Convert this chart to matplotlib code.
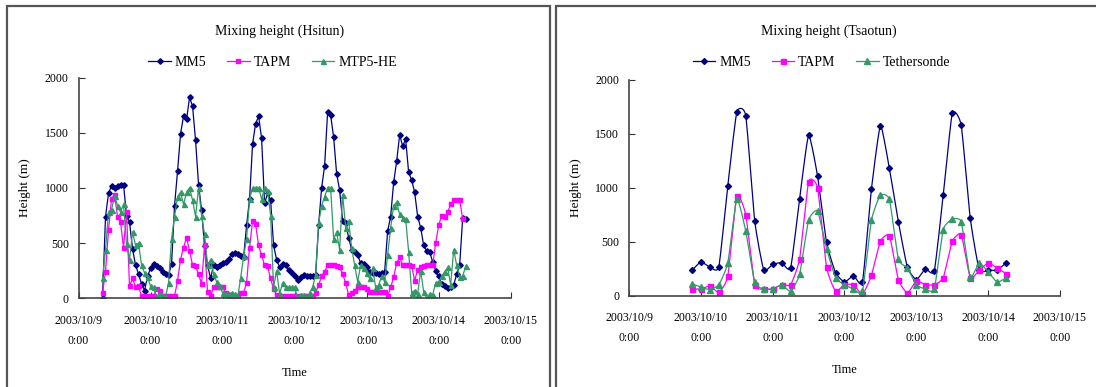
import numpy as np
import matplotlib.pyplot as plt
from matplotlib.patches import Rectangle

plt.rcParams['font.family'] = ['Liberation Serif', 'DejaVu Serif']

# ---- Hsitun: hourly values, first hour = 10/9 08:00 ----
hsitun_mm5_start = 8
hsitun_mm5 = [0, 740, 950, 1020, 1000, 1020, 1030, 1030, 750, 690, 450, 300, 220, 130, 70, 200,
              270, 310, 290, 270, 240, 220, 210, 310, 840, 1150, 1490, 1650, 1620, 1820, 1740, 1430,
              1030, 800, 470, 300, 180, 300, 280, 300, 320, 330, 360, 400, 410, 400, 380, 370,
              660, 900, 1400, 1580, 1650, 1450, 860, 950, 890, 480, 350, 280, 310, 300, 260, 230,
              200, 170, 190, 210, 200, 200, 200, 210, 660, 1000, 1200, 1690, 1660, 1460, 1130, 980,
              700, 680, 550, 440, 420, 390, 320, 310, 280, 240, 230, 230, 220, 230, 240, 610,
              740, 1050, 1240, 1480, 1380, 1440, 1140, 1070, 960, 740, 640, 480, 430, 420, 330, 250,
              200, 130, 110, 90, 100, 120, 220, 300, 730, 720]

hsitun_tapm_start = 8
hsitun_tapm = [50, 240, 620, 900, 940, 740, 690, 460, 780, 110, 180, 100, 110, 20, 20, 20,
               20, 20, 80, 70, 20, 20, 20, 20, 20, 160, 350, 460, 550, 430, 300, 290,
               220, 130, 480, 60, 20, 100, 100, 100, 100, 50, 20, 20, 20, 20, 50, 50,
               140, 460, 700, 670, 480, 390, 300, 290, 180, 80, 30, 20, 20, 20, 20, 20,
               20, 20, 20, 20, 20, 20, 20, 50, 120, 200, 240, 300, 300, 300, 290, 280,
               220, 140, 30, 50, 70, 100, 100, 100, 80, 60, 60, 60, 60, 60, 60, 20,
               100, 190, 320, 370, 300, 300, 300, 290, 160, 260, 280, 290, 300, 300, 300, 500,
               660, 750, 740, 780, 850, 890, 890, 890, 720]

hsitun_mtp5_start = 8
hsitun_mtp5 = [180, 440, 780, 800, 930, 840, 780, 850, 490, 350, 600, 480, 500, 300, 230, 190,
               110, 100, 10, 50, 10, 10, 140, 540, 740, 920, 960, 850, 960, 1000, 890, 740,
               1000, 750, 580, 300, 350, 220, 150, 110, 50, 40, 40, 50, 40, 0, 180, 380,
               540, 900, 1000, 1000, 1000, 900, 1000, 970, 750, 100, 250, 40, 140, 100, 100, 100,
               100, 0, 30, 30, 0, 50, 100, 210, 680, 840, 920, 1000, 1000, 540, 600, 440,
               940, 640, 700, 460, 300, 150, 300, 270, 230, 180, 270, 100, 120, 200, 150, 390,
               640, 840, 870, 760, 730, 720, 420, 50, 70, 40, 250, 60, 0, 40, 30, 140,
               150, 200, 240, 280, 120, 440, 300, 190, 200, 290]

# ---- Tsaotun: 3-hourly values, first hour = 10/9 21:00 ----
tsaotun_start = 21
tsaotun_mm5 = [235, 313, 266, 266, 1018, 1700, 1669, 694, 241, 291, 306, 257, 900, 1486, 1108, 495,
               214, 127, 186, 127, 988, 1576, 1180, 684, 266, 149, 248, 229, 938, 1690, 1579, 721,
               241, 235, 240, 303]
tsaotun_tapm = [62, 62, 90, 31, 180, 923, 752, 102, 62, 62, 102, 102, 341, 1056, 1000, 266,
                43, 102, 102, 12, 189, 505, 557, 149, 25, 136, 102, 102, 167, 505, 566, 167,
                235, 303, 257, 204]
tsaotun_teth = [111, 80, 56, 102, 303, 895, 600, 124, 62, 62, 102, 40, 198, 700, 786, 437,
                167, 102, 62, 40, 700, 932, 892, 341, 257, 102, 62, 62, 613, 709, 684, 173,
                303, 220, 127, 164]

day_labels = ['2003/10/9\n0:00', '2003/10/10\n0:00', '2003/10/11\n0:00', '2003/10/12\n0:00',
              '2003/10/13\n0:00', '2003/10/14\n0:00', '2003/10/15\n0:00']

C_MM5 = '#000080'
C_TAPM = '#ff00ff'
C_GRN = '#339966'

W, H = 1096, 387


def px_box(x0, y0, x1, y1):
    return [x0 / W, 1 - y1 / H, (x1 - x0) / W, (y1 - y0) / H]


def days(start, n, step=1):
    return (start + step * np.arange(n)) / 24.0


def smooth(x, y, n=12, s=0.5):
    # cardinal spline through the points (a tamer version of Excel's smoothed line)
    p = np.column_stack([x, y]).astype(float)
    p = np.vstack([p[0], p, p[-1]])
    t = np.linspace(0, 1, n, endpoint=False)[:, None]
    h00 = 2 * t ** 3 - 3 * t ** 2 + 1
    h10 = t ** 3 - 2 * t ** 2 + t
    h01 = -2 * t ** 3 + 3 * t ** 2
    h11 = t ** 3 - t ** 2
    out = []
    for i in range(1, len(p) - 2):
        p0, p1, p2, p3 = p[i - 1], p[i], p[i + 1], p[i + 2]
        m1 = s * (p2 - p0) / 2
        m2 = s * (p3 - p1) / 2
        out.append(h00 * p1 + h10 * m1 + h01 * p2 + h11 * m2)
    out.append(p[-2][None, :])
    c = np.vstack(out)
    return c[:, 0], c[:, 1]


def style_axes(ax):
    ax.set_xlim(0, 6)
    ax.set_ylim(0, 2000)
    ax.set_xticks(range(7))
    ax.set_xticklabels(day_labels, fontsize=8.5, linespacing=1.9)
    ax.set_yticks([0, 500, 1000, 1500, 2000])
    ax.tick_params(axis='x', direction='in', length=4, pad=12, color='#333333')
    ax.tick_params(axis='y', direction='in', length=4, pad=7, labelsize=8.5, color='#333333')
    for s in ['top', 'right']:
        ax.spines[s].set_visible(False)
    for s in ['left', 'bottom']:
        ax.spines[s].set_color('#444444')
        ax.spines[s].set_linewidth(1.2)
    ax.set_xlabel('Time', fontsize=9, labelpad=14)
    ax.set_ylabel('Height (m)', fontsize=9.5, labelpad=10)


def add_legend(ax, cx):
    ax.legend(loc='center', bbox_to_anchor=(cx / W, 1 - 62 / H), bbox_transform=fig.transFigure,
              ncol=3, frameon=False, fontsize=10, handlelength=1.6, columnspacing=1.5,
              handletextpad=0.3, borderpad=0)


fig = plt.figure(figsize=(W / 100, H / 100), dpi=100)

# panel frames
fig.add_artist(Rectangle((7 / W, -0.05), (550 - 7) / W, 1.05 - 6 / H, transform=fig.transFigure,
                         fill=False, edgecolor='#555555', linewidth=1.6))
fig.add_artist(Rectangle((556 / W, -0.05), 0.5, 1.05 - 6 / H, transform=fig.transFigure,
                         fill=False, edgecolor='#555555', linewidth=1.6))

# left: Hsitun
ax1 = fig.add_axes(px_box(78.5, 77.5, 510.7, 298.3))
ax1.plot(days(hsitun_mm5_start, len(hsitun_mm5)), hsitun_mm5, color=C_MM5, lw=0.9,
         marker='D', ms=2.8, label='MM5')
ax1.plot(days(hsitun_tapm_start, len(hsitun_tapm)), hsitun_tapm, color=C_TAPM, lw=0.9,
         marker='s', ms=3.2, label='TAPM')
ax1.plot(days(hsitun_mtp5_start, len(hsitun_mtp5)), hsitun_mtp5, color=C_GRN, lw=0.9,
         marker='^', ms=3.6, label='MTP5-HE')
style_axes(ax1)
fig.text(279.5 / W, 1 - 31 / H, 'Mixing height (Hsitun)', ha='center', va='center', fontsize=10)
add_legend(ax1, 272.7)

# right: Tsaotun
ax2 = fig.add_axes(px_box(629, 80, 1060, 295.7))
xt = days(tsaotun_start, len(tsaotun_mm5), 3)
for vals, col, mk, ms, lab in [(tsaotun_mm5, C_MM5, 'D', 3.0, 'MM5'),
                               (tsaotun_tapm, C_TAPM, 's', 3.6, 'TAPM'),
                               (tsaotun_teth, C_GRN, '^', 3.8, 'Tethersonde')]:
    sx, sy = smooth(xt, vals)
    ax2.plot(sx, sy, color=col, lw=0.9)
    ax2.plot(xt, vals, ls='none', color=col, marker=mk, ms=ms)
    ax2.plot([], [], color=col, lw=0.9, marker=mk, ms=ms, label=lab)
style_axes(ax2)
fig.text(828.5 / W, 1 - 31 / H, 'Mixing height (Tsaotun)', ha='center', va='center', fontsize=10)
add_legend(ax2, 821.6)

fig.savefig('out.png', dpi=100)
